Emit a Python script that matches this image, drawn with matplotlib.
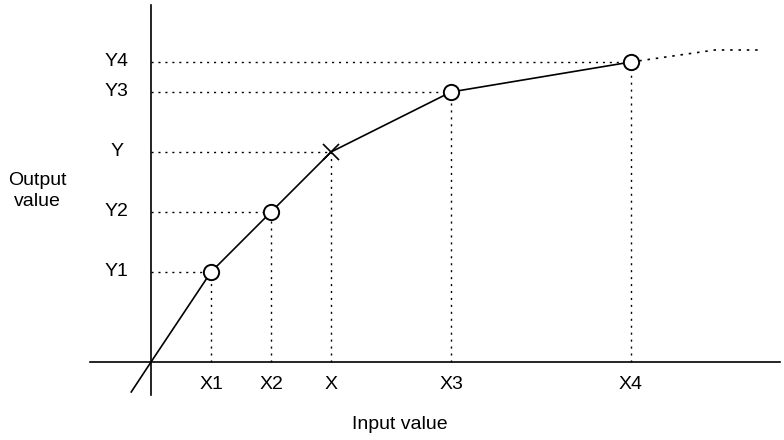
import matplotlib
matplotlib.use("Agg")
import matplotlib.pyplot as plt

plt.rcParams['font.family'] = ['Liberation Sans', 'DejaVu Sans']

# known points on the curve (circles) and the interpolated point (cross)
point_x = [1, 2, 5, 8]
point_y = [1.5, 2.5, 4.5, 5.0]
point_xlabels = ["X1", "X2", "X3", "X4"]
point_ylabels = ["Y1", "Y2", "Y3", "Y4"]

interp_x = 3
interp_y = 3.5

# curve, including the short part below the origin
curve_x = [-0.33, 0, 1, 2, 3, 5, 8]
curve_y = [-0.5, 0, 1.5, 2.5, 3.5, 4.5, 5.0]

# dotted continuation past the last point
ext_x = [8, 9.4, 10.2]
ext_y = [5.0, 5.2, 5.2]

fig = plt.figure(figsize=(7.84, 4.4), dpi=100)
ax = fig.add_axes([0, 0, 1, 1])
ax.set_xlim(-2.517, 10.55)
ax.set_ylim(-1.3, 6.033)
ax.axis("off")

# axes
ax.plot([-1.02, 10.48], [0, 0], color="black", lw=1.2)
ax.plot([0, 0], [-0.55, 5.95], color="black", lw=1.2)

dot = (0, (1.5, 3.5))
all_x = point_x[:2] + [interp_x] + point_x[2:]
all_y = point_y[:2] + [interp_y] + point_y[2:]
for x, y in zip(all_x, all_y):
    ax.plot([0, x], [y, y], color="black", lw=1, linestyle=dot)
    ax.plot([x, x], [0, y], color="black", lw=1, linestyle=dot)

ax.plot(curve_x, curve_y, color="black", lw=1.2)
ax.plot(ext_x, ext_y, color="black", lw=1.2, linestyle=dot)

ax.plot(point_x, point_y, "o", ms=11, mfc="white", mec="black", mew=1.4)
ax.plot(interp_x, interp_y, "x", ms=11, color="black", mew=1.2)

# labels
xlabs = point_xlabels[:2] + ["X"] + point_xlabels[2:]
ylabs = point_ylabels[:2] + ["Y"] + point_ylabels[2:]
for x, lab in zip(all_x, xlabs):
    ax.text(x, -0.37, lab, ha="center", va="center", fontsize=14)
for y, lab in zip(all_y, ylabs):
    ax.text(-0.57, y, lab, ha="center", va="center", fontsize=14)

ax.text(4.15, -1.05, "Input value", ha="center", va="center", fontsize=14)
ax.text(-1.9, 2.85, "Output\nvalue", ha="center", va="center", fontsize=14,
        linespacing=1.25)

fig.savefig("out.png", dpi=100)
